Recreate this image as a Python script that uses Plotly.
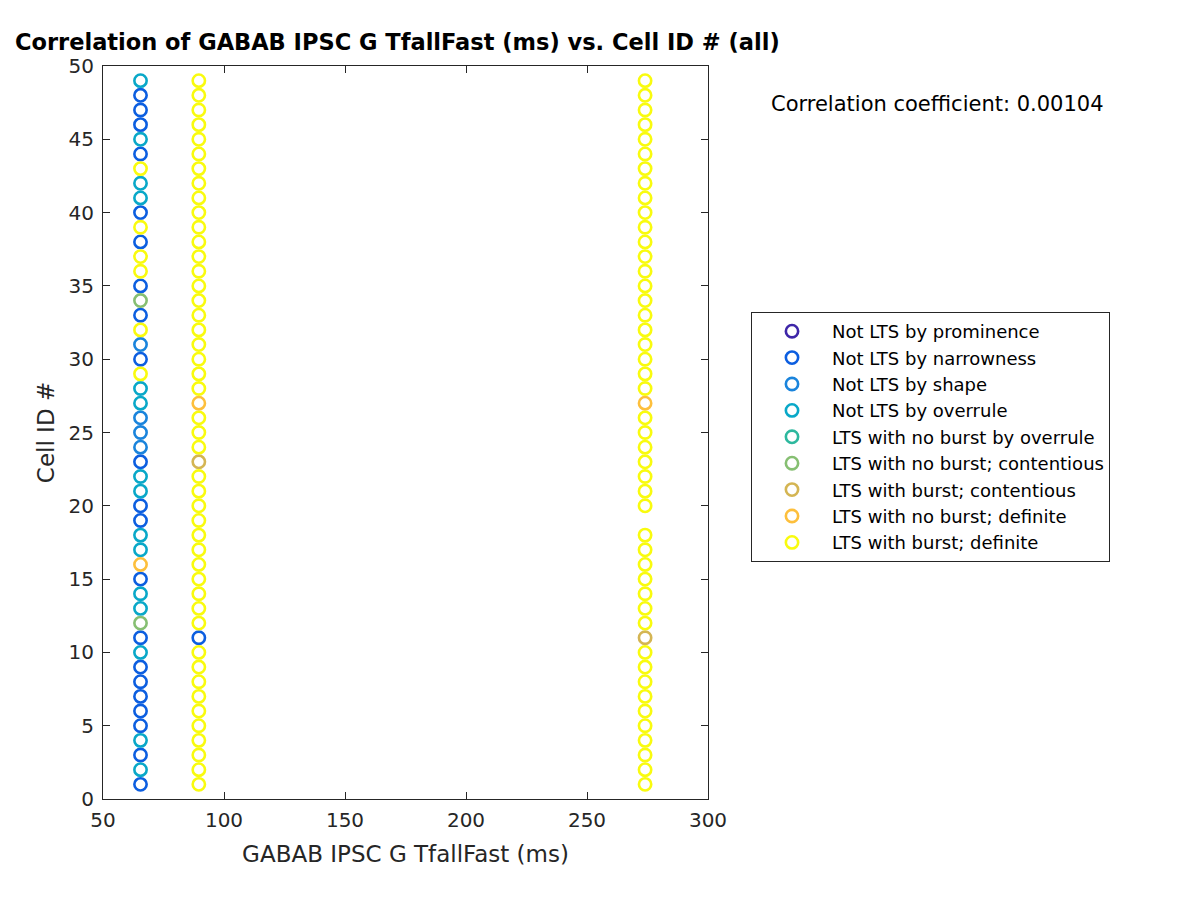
import plotly.graph_objects as go

# ---------------- data ----------------
category_names = [
    "Not LTS by prominence",
    "Not LTS by narrowness",
    "Not LTS by shape",
    "Not LTS by overrule",
    "LTS with no burst by overrule",
    "LTS with no burst; contentious",
    "LTS with burst; contentious",
    "LTS with no burst; definite",
    "LTS with burst; definite",
]
category_colors = [
    "#3e26a8", "#0c5ee0", "#1a84dc", "#09a8c8", "#2db89e",
    "#86bf72", "#d4b553", "#fdbf3c", "#f9fb0e",
]

# column 1 (TfallFast ~ 65.5 ms)
col1_x = 65.5
col1_ids = [1, 2, 3, 4, 5, 6, 7, 8, 9, 10, 11, 12, 13, 14, 15, 16, 17, 18, 19, 20,
            21, 22, 23, 24, 25, 26, 27, 28, 29, 30, 31, 32, 33, 34, 35, 36, 37, 38, 39, 40,
            41, 42, 43, 44, 45, 46, 47, 48, 49]
col1_cat = [2, 4, 2, 4, 2, 2, 2, 2, 2, 4, 2, 6, 4, 4, 2, 8, 4, 4, 2, 2,
            4, 4, 2, 3, 3, 3, 4, 4, 9, 2, 3, 9, 2, 6, 2, 9, 9, 2, 9, 2,
            4, 4, 9, 2, 4, 2, 2, 2, 4]

# column 2 (TfallFast ~ 89.6 ms)
col2_x = 89.6
col2_ids = [1, 2, 3, 4, 5, 6, 7, 8, 9, 10, 11, 12, 13, 14, 15, 16, 17, 18, 19, 20,
            21, 22, 23, 24, 25, 26, 27, 28, 29, 30, 31, 32, 33, 34, 35, 36, 37, 38, 39, 40,
            41, 42, 43, 44, 45, 46, 47, 48, 49]
col2_cat = [9, 9, 9, 9, 9, 9, 9, 9, 9, 9, 2, 9, 9, 9, 9, 9, 9, 9, 9, 9,
            9, 9, 7, 9, 9, 9, 8, 9, 9, 9, 9, 9, 9, 9, 9, 9, 9, 9, 9, 9,
            9, 9, 9, 9, 9, 9, 9, 9, 9]

# column 3 (TfallFast ~ 274 ms)
col3_x = 274.0
col3_ids = [1, 2, 3, 4, 5, 6, 7, 8, 9, 10, 11, 12, 13, 14, 15, 16, 17, 18, 20,
            21, 22, 23, 24, 25, 26, 27, 28, 29, 30, 31, 32, 33, 34, 35, 36, 37, 38, 39, 40,
            41, 42, 43, 44, 45, 46, 47, 48, 49]
col3_cat = [9, 9, 9, 9, 9, 9, 9, 9, 9, 9, 7, 9, 9, 9, 9, 9, 9, 9, 9,
            9, 9, 9, 9, 9, 9, 8, 9, 9, 9, 9, 9, 9, 9, 9, 9, 9, 9, 9, 9,
            9, 9, 9, 9, 9, 9, 9, 9, 9]

corr_coef = 0.00104

x_ticks = [50, 100, 150, 200, 250, 300]
y_ticks = [0, 5, 10, 15, 20, 25, 30, 35, 40, 45, 50]

# ---------------- figure ----------------
columns = [(col1_x, col1_ids, col1_cat), (col2_x, col2_ids, col2_cat), (col3_x, col3_ids, col3_cat)]

fig = go.Figure()
for k, (name, color) in enumerate(zip(category_names, category_colors), start=1):
    xs, ys = [], []
    for cx, ids, cats in columns:
        for cid, c in zip(ids, cats):
            if c == k:
                xs.append(cx)
                ys.append(cid)
    fig.add_trace(go.Scatter(
        x=xs if xs else [None], y=ys if ys else [None],
        mode="markers", name=name, legendgroup=f"g{k}",
        marker=dict(symbol="circle-open", size=12.3, color=color,
                    line=dict(width=2.6, color=color)),
        showlegend=True,
    ))

axis_common = dict(
    showline=True, linecolor="#262626", linewidth=1, mirror="ticks",
    ticks="inside", ticklen=7, tickcolor="#262626", tickwidth=1,
    showgrid=False, zeroline=False,
    tickfont=dict(family="DejaVu Sans", size=20, color="#262626"),
)

fig.update_layout(
    width=1200, height=900,
    paper_bgcolor="white", plot_bgcolor="white",
    margin=dict(l=95, r=500, t=58, b=109),
    title=dict(text="<b>Correlation of GABAB IPSC G TfallFast (ms) vs. Cell ID # (all)</b>",
               x=7 / 1200, xanchor="left", xref="container",
               y=1 - 34 / 900, yanchor="middle", yref="container",
               font=dict(family="DejaVu Sans", size=22.5, color="black")),
    xaxis=dict(range=[50, 300], tickvals=x_ticks, ticklabelstandoff=3,
               title=dict(text="GABAB IPSC G TfallFast (ms)", standoff=14,
                          font=dict(family="DejaVu Sans", size=23, color="#262626")),
               **axis_common),
    yaxis=dict(range=[0, 50], tickvals=y_ticks, ticklabelstandoff=4,
               title=dict(text="Cell ID #", standoff=7,
                          font=dict(family="DejaVu Sans", size=23, color="#262626")),
               **axis_common),
    legend=dict(x=(751 - 103) / 605, y=(799 - 312) / 733, xanchor="left", yanchor="top",
                bgcolor="white", bordercolor="#262626", borderwidth=1,
                font=dict(family="DejaVu Sans", size=18, color="black"),
                itemwidth=70, tracegroupgap=0),
    annotations=[dict(
        text=f"Correlation coefficient: {corr_coef}",
        xref="paper", yref="paper", x=(769 - 103) / 605, y=(799 - 104) / 733,
        xanchor="left", yanchor="middle", showarrow=False,
        font=dict(family="DejaVu Sans", size=21, color="black"),
    )],
)

fig.write_html("out.html")
